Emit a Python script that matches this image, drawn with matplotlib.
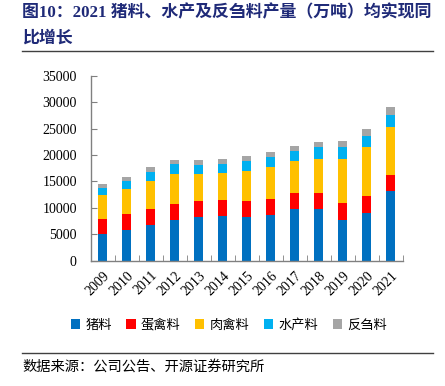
import matplotlib
matplotlib.use("Agg")
import matplotlib.pyplot as plt
from matplotlib.patches import Patch
from matplotlib.lines import Line2D
import numpy as np

plt.rcParams['font.family'] = ['Liberation Serif', 'Noto Sans CJK SC', 'DejaVu Sans']

years = ['2009', '2010', '2011', '2012', '2013', '2014', '2015', '2016',
         '2017', '2018', '2019', '2020', '2021']
pig = [5080, 5840, 6670, 7620, 8250, 8510, 8250, 8680, 9760, 9700, 7670, 9000, 13120]
egg = [2730, 2990, 3170, 3170, 3050, 2920, 3050, 3040, 2980, 3040, 3170, 3230, 3170]
meat = [4630, 4760, 5330, 5650, 5020, 5080, 5640, 6090, 6080, 6520, 8490, 9250, 9000]
aqua = [1340, 1460, 1650, 1850, 1840, 1840, 1900, 1770, 2030, 2220, 2150, 2090, 2280]
rumi = [700, 820, 830, 760, 820, 890, 920, 1020, 950, 1020, 1140, 1400, 1520]
series_names = ['猪料', '蛋禽料', '肉禽料', '水产料', '反刍料']
colors = ['#0070C0', '#FF0000', '#FFC000', '#00B0F0', '#A5A5A5']
yticks = [0, 5000, 10000, 15000, 20000, 25000, 30000, 35000]

W, H = 445, 386
fig = plt.figure(figsize=(W / 100, H / 100), dpi=100)

# title
fig.text(22 / W, 1 - 5 / H,
         '图10：2021 猪料、水产及反刍料产量（万吨）均实现同\n比增长',
         ha='left', va='top', fontsize=12.2, fontweight='bold', color='#1F2A78',
         linespacing=1.75,
         family=['Liberation Serif', 'Noto Sans CJK SC'])
fig.add_artist(Line2D([22 / W, 433 / W], [1 - 51 / H, 1 - 51 / H],
                      color='#404040', lw=1.0, transform=fig.transFigure))

ax = fig.add_axes([90.7 / W, 1 - 260.5 / H, 312 / W, (260.5 - 76) / H])
x = np.arange(len(years))
data = [pig, egg, meat, aqua, rumi]
bottom = np.zeros(len(years))
for vals, c, name in zip(data, colors, series_names):
    ax.bar(x, vals, width=0.39, bottom=bottom, color=c, label=name, zorder=2)
    bottom += np.array(vals)

ax.set_xlim(-0.5, len(years) - 0.5)
ax.set_ylim(0, 35000)
ax.set_yticks(yticks)
ax.set_yticklabels([str(v) for v in yticks], fontsize=10,
                   family='Liberation Serif')
ax.set_xticks(x)
ax.set_xticklabels(years, rotation=45, ha='right', rotation_mode='anchor',
                   fontsize=10, family='Liberation Serif')
ax.tick_params(axis='x', which='major', length=0, pad=6)
ax.set_xticks(np.arange(-0.5, len(years), 1.0), minor=True)
ax.tick_params(axis='x', which='minor', length=4, direction='in', color='#808080')
ax.tick_params(axis='y', length=4, direction='in', color='#808080', pad=10)
for s in ['top', 'right']:
    ax.spines[s].set_visible(False)
for s in ['left', 'bottom']:
    ax.spines[s].set_color('#808080')
    ax.spines[s].set_linewidth(1.0)

handles = [Patch(facecolor=c, edgecolor='none') for c in colors]
fig.legend(handles, series_names, loc='center', ncol=5,
           bbox_to_anchor=(229 / W, 1 - 325 / H), frameon=False,
           handlelength=0.7, handleheight=0.7, handletextpad=0.4,
           columnspacing=1.1,
           prop={'family': ['Noto Sans CJK SC'], 'size': 9.5})

fig.add_artist(Line2D([22 / W, 433 / W], [1 - 353 / H, 1 - 353 / H],
                      color='#404040', lw=1.0, transform=fig.transFigure))
fig.text(22 / W, 1 - 367 / H, '数据来源：公司公告、开源证券研究所',
         ha='left', va='center', fontsize=10.3, color='#000000',
         family=['Noto Sans CJK SC'])

fig.savefig('out.png', dpi=100)
